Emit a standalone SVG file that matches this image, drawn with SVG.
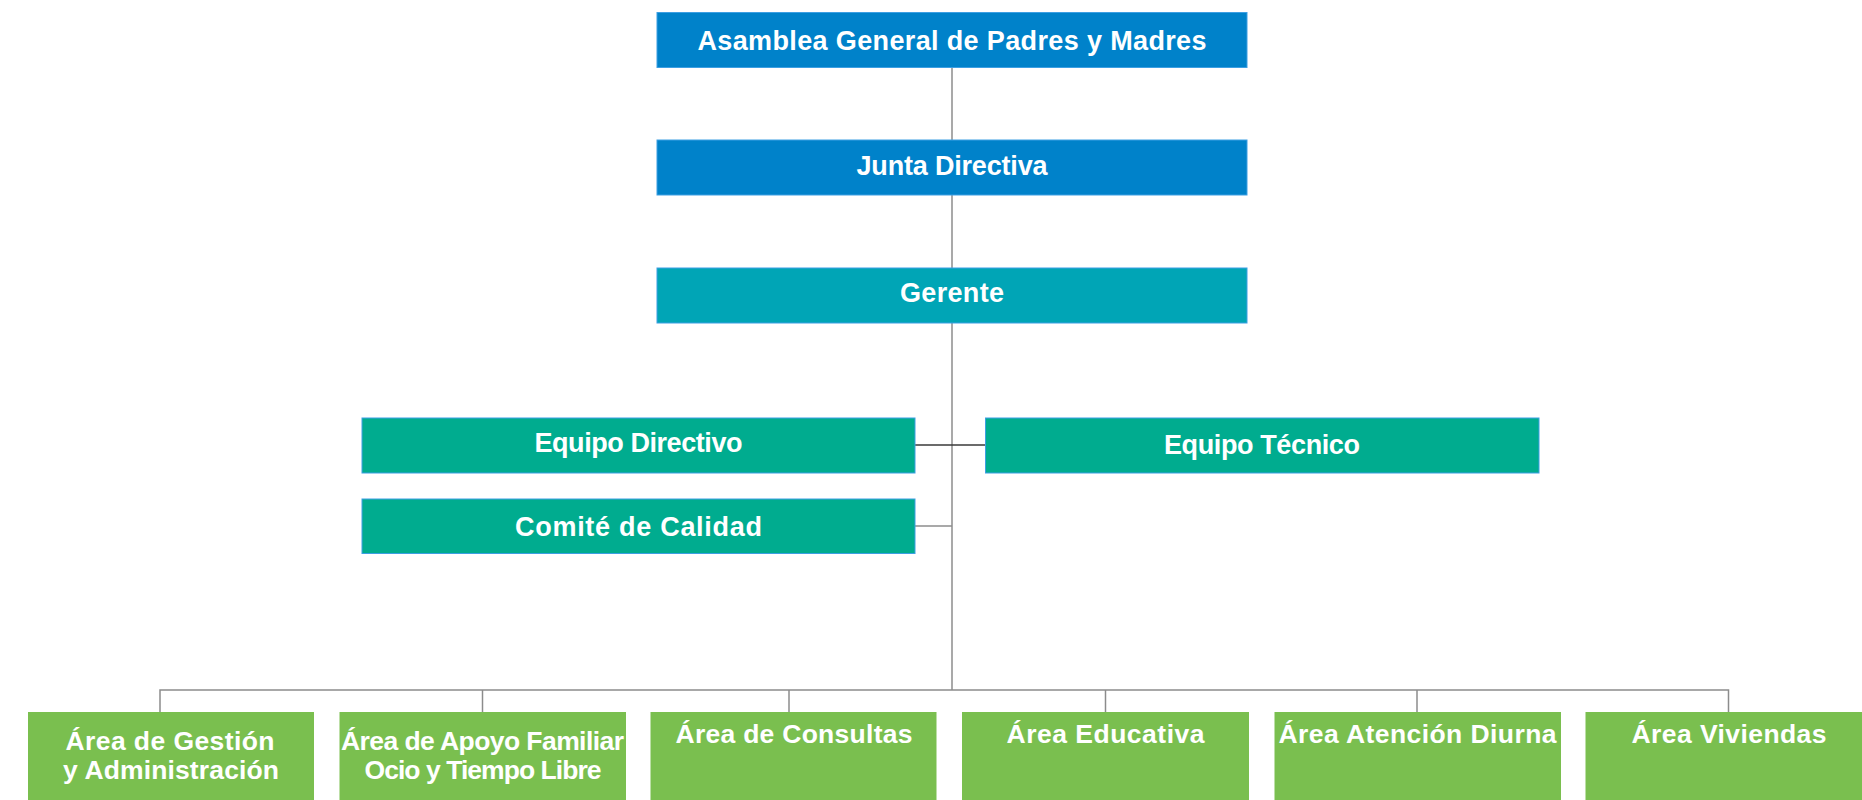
<svg xmlns="http://www.w3.org/2000/svg" width="1862" height="800" viewBox="0 0 1862 800">
<style>
.t{font-family:"Liberation Sans",Arial,sans-serif;font-weight:bold;font-size:27px;fill:#ffffff;text-anchor:middle}
.s{font-size:26.5px}
.blue{fill:#0082CA;stroke:#3D9FE3;stroke-width:1}
.teal{fill:#00A5B6;stroke:#3D9FE3;stroke-width:1}
.sea{fill:#00AC8F;stroke:#3D9FE3;stroke-width:1}
.green{fill:#7ABF4F}
.c{stroke:#8C8C8C;stroke-width:1.5;fill:none}
.d{stroke:#3A3A3A;stroke-width:1.5;fill:none}
</style>
<rect width="1862" height="800" fill="#ffffff"/>
<g id="connectors">
<line class="c" x1="952" y1="67" x2="952" y2="140"/>
<line class="c" x1="952" y1="195" x2="952" y2="268"/>
<line class="c" x1="952" y1="323" x2="952" y2="690"/>
<line class="d" x1="915" y1="445" x2="985.5" y2="445"/>
<line class="c" x1="915" y1="526" x2="952" y2="526"/>
<polyline class="c" points="160,712 160,690 1728.5,690 1728.5,712"/>
<line class="c" x1="482.5" y1="690" x2="482.5" y2="712"/>
<line class="c" x1="789" y1="690" x2="789" y2="712"/>
<line class="c" x1="1105.5" y1="690" x2="1105.5" y2="712"/>
<line class="c" x1="1417" y1="690" x2="1417" y2="712"/>
</g>
<g id="asamblea">
<rect class="blue" x="657" y="12.5" width="590" height="55"/>
<text class="t" x="952" y="49.5" textLength="509">Asamblea General de Padres y Madres</text>
</g>
<g id="junta">
<rect class="blue" x="657" y="140" width="590" height="55"/>
<text class="t" x="952" y="175" textLength="191">Junta Directiva</text>
</g>
<g id="gerente">
<rect class="teal" x="657" y="268" width="590" height="55"/>
<text class="t" x="952" y="302" textLength="104">Gerente</text>
</g>
<g id="equipo-directivo">
<rect class="sea" x="362" y="418" width="553" height="55"/>
<text class="t" x="638.5" y="452" textLength="208">Equipo Directivo</text>
</g>
<g id="comite-calidad">
<rect class="sea" x="362" y="499" width="553" height="54.5"/>
<text class="t" x="638.5" y="535.5" textLength="247">Comité de Calidad</text>
</g>
<g id="equipo-tecnico">
<rect class="sea" x="985.5" y="418" width="553.5" height="55"/>
<text class="t" x="1262" y="453.5" textLength="196">Equipo Técnico</text>
</g>
<g id="area-gestion">
<rect class="green" x="28" y="712" width="286" height="90"/>
<text class="t s" x="170" y="749.5" textLength="209">Área de Gestión</text>
<text class="t s" x="171" y="779" textLength="216">y Administración</text>
</g>
<g id="area-apoyo">
<rect class="green" x="339.5" y="712" width="286.5" height="90"/>
<text class="t s" x="482.5" y="749.5" textLength="283">Área de Apoyo Familiar</text>
<text class="t s" x="483" y="779" textLength="237">Ocio y Tiempo Libre</text>
</g>
<g id="area-consultas">
<rect class="green" x="650.5" y="712" width="286" height="90"/>
<text class="t s" x="794" y="742.5" textLength="237">Área de Consultas</text>
</g>
<g id="area-educativa">
<rect class="green" x="962" y="712" width="287" height="90"/>
<text class="t s" x="1105.5" y="742.5" textLength="198">Área Educativa</text>
</g>
<g id="area-atencion-diurna">
<rect class="green" x="1274.5" y="712" width="286.5" height="90"/>
<text class="t s" x="1417.5" y="742.5" textLength="278">Área Atención Diurna</text>
</g>
<g id="area-viviendas">
<rect class="green" x="1585.5" y="712" width="286.5" height="90"/>
<text class="t s" x="1729" y="742.5" textLength="195">Área Viviendas</text>
</g>
</svg>
